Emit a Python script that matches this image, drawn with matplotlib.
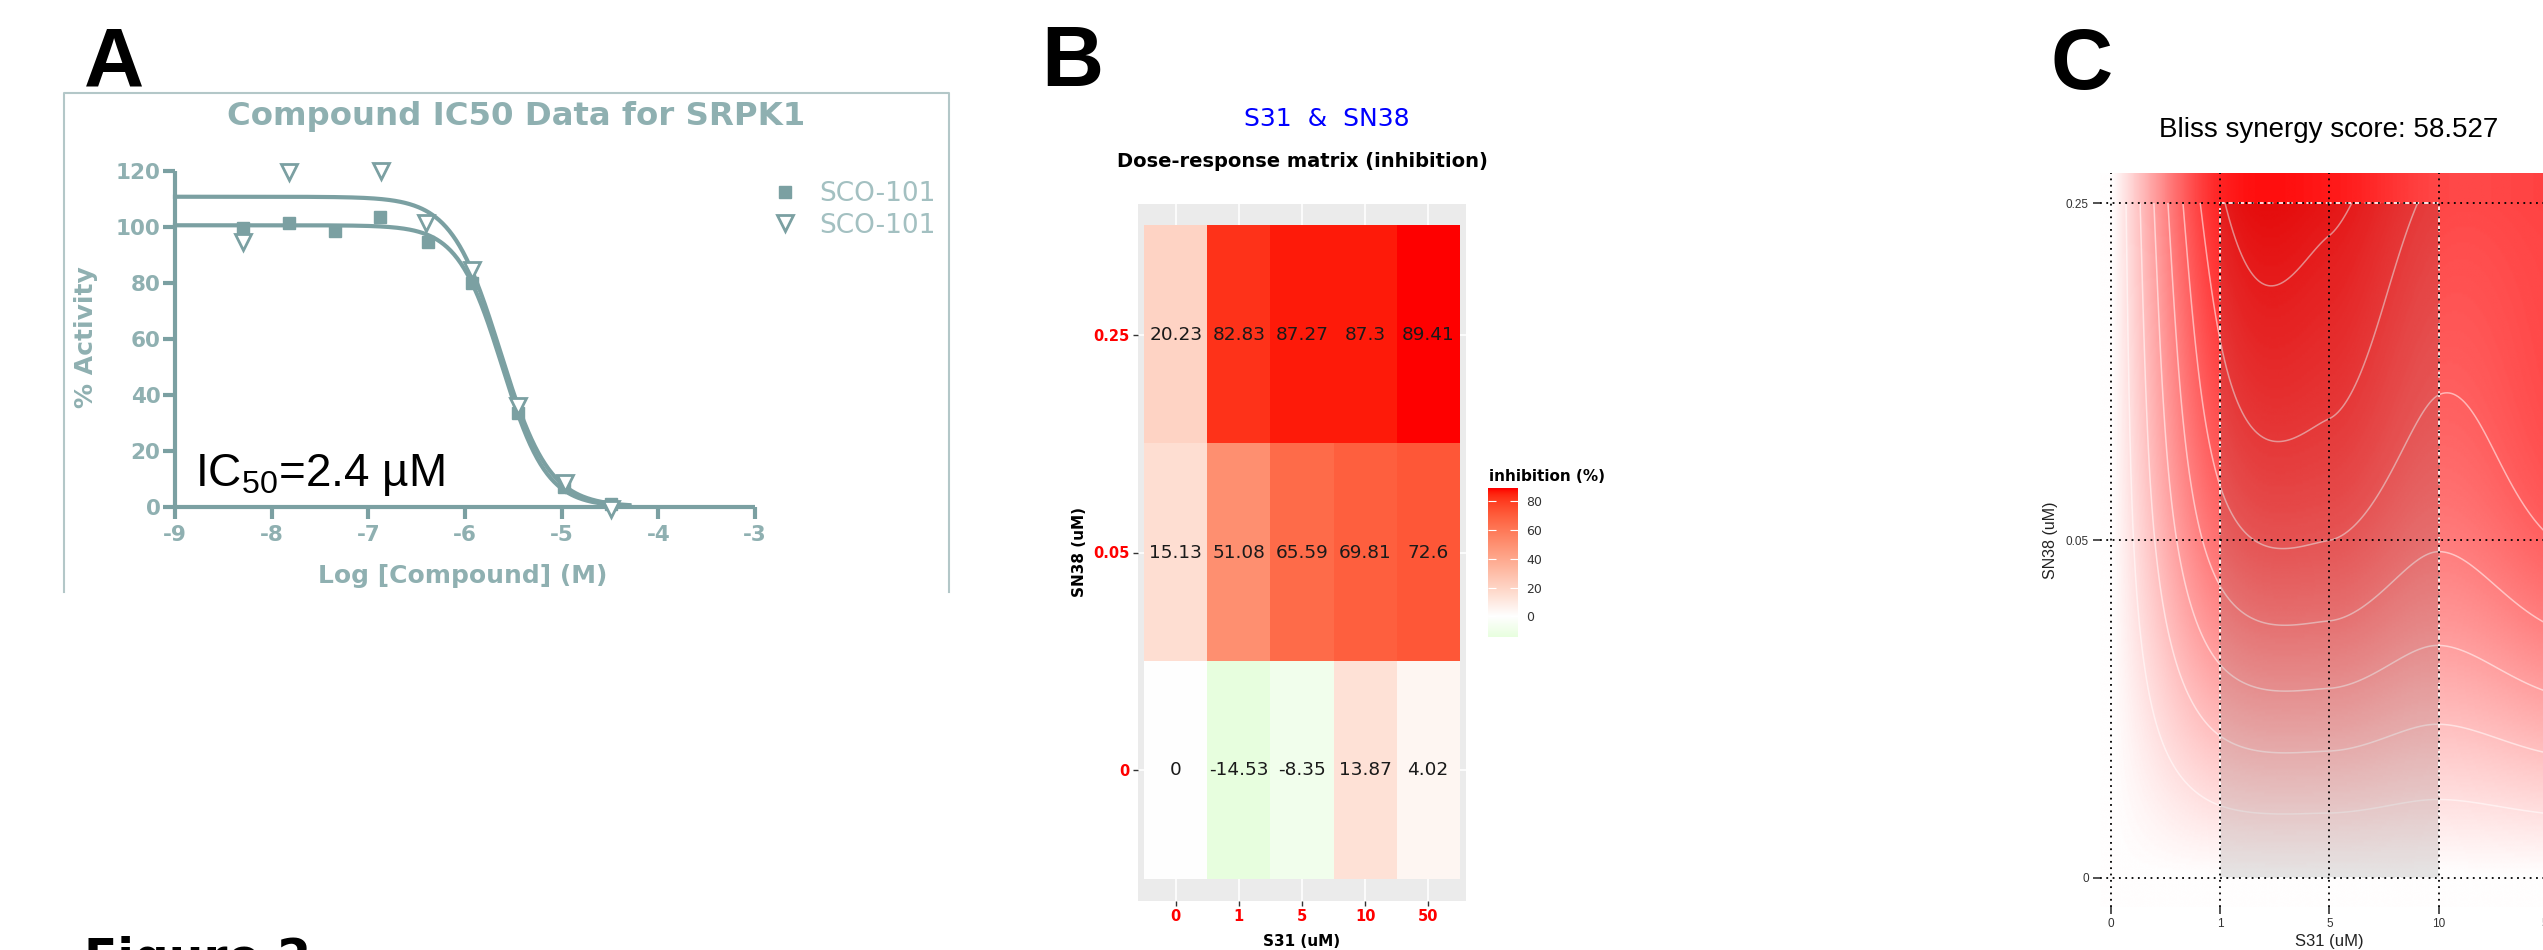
import numpy as np
import matplotlib
matplotlib.use("Agg")
import matplotlib.pyplot as plt
from matplotlib.lines import Line2D
from matplotlib.patches import Rectangle
from matplotlib.colors import ListedColormap, LinearSegmentedColormap

plt.rcParams['mathtext.fontset'] = 'custom'
plt.rcParams['mathtext.rm'] = 'Liberation Sans'
plt.rcParams['mathtext.default'] = 'rm'
plt.rcParams['axes.unicode_minus'] = False

# ---------------- data ----------------
# Panel A: IC50 curve data (log M, % activity)
sq_logx = [-8.30, -7.82, -7.345, -6.88, -6.38, -5.93, -5.455, -4.98, -4.49]
sq_act = [99.5, 101.5, 98.7, 103.7, 94.7, 80.1, 33.4, 7.1, 0.8]
tri_logx = [-8.30, -7.82, -6.87, -6.40, -5.93, -5.45, -4.97, -4.49]
tri_act = [94.7, 119.8, 120.0, 101.3, 84.6, 36.0, 8.4, -1.0]
# fitted 4PL parameters: (top, bottom, logIC50, hill)
fit_sq = (100.6, 0.0, -5.616, 1.885)
fit_tri = (110.8, 0.0, -5.635, 1.72)
fit_range = (-9.0, -4.3)
legend_labels = ['SCO-101', 'SCO-101']
ic50_text = 'IC$_{50}$=2.4 µM'

# Panel B: dose-response matrix (rows: SN38 0, 0.05, 0.25; cols: S31 0,1,5,10,50)
s31_doses = ['0', '1', '5', '10', '50']
sn38_doses = ['0', '0.05', '0.25']
inhibition = [
    [0, -14.53, -8.35, 13.87, 4.02],
    [15.13, 51.08, 65.59, 69.81, 72.6],
    [20.23, 82.83, 87.27, 87.3, 89.41],
]
cbar_ticks = [0, 20, 40, 60, 80]

# Panel C: Bliss synergy scores (rows SN38 0, 0.05, 0.25)
bliss = [
    [0, 0, 0, 0, 0],
    [0, 45, 50, 41, 49.5],
    [0, 68.5, 72, 58, 59],
]
bliss_score = 58.527
contour_levels = [10, 20, 30, 40, 50, 60, 70]
box_x = (1, 3)   # most synergistic area (dose index)
box_y = (0, 2)

# ---------------- figure ----------------
W, H = 2543, 950
fig = plt.figure(figsize=(W / 100, H / 100), dpi=100)
fig.patch.set_facecolor('white')


def fx(x):
    return x / W


def fy(y):
    return 1 - y / H


TEAL = '#7BA0A2'
TEAL_T = '#8FB0B1'
TEAL_L = '#A3C0C1'

# ---------- Panel A ----------
fig.add_artist(Line2D([fx(64), fx(64), fx(949), fx(949)], [fy(592), fy(93), fy(93), fy(592)],
                      color='#B3C7C8', lw=1.5))
axA = fig.add_axes([fx(175), fy(506.7), (755 - 175) / W, (506.7 - 171) / H])
axA.set_xlim(-9, -3)
axA.set_ylim(0, 120)
for s in ['top', 'right']:
    axA.spines[s].set_visible(False)
for s in ['left', 'bottom']:
    axA.spines[s].set_color(TEAL)
    axA.spines[s].set_linewidth(3)
    axA.spines[s].set_capstyle('butt')
axA.set_xticks(range(-9, -2))
axA.set_yticks(range(0, 121, 20))
axA.tick_params(direction='out', length=8.5, width=3, color=TEAL, labelcolor=TEAL_T,
                labelsize=15.5)
axA.tick_params(axis='y', pad=2)
axA.tick_params(axis='x', pad=5)
for lab in axA.get_xticklabels() + axA.get_yticklabels():
    lab.set_fontweight('bold')
    lab.set_family('DejaVu Sans')
axA.set_facecolor('none')


def logistic(x, p):
    top, bot, c, h = p
    return bot + (top - bot) / (1 + 10 ** ((x - c) * h))


xx = np.linspace(fit_range[0], fit_range[1], 400)
axA.plot(xx, logistic(xx, fit_tri), color=TEAL, lw=3, clip_on=False, zorder=2)
axA.plot(xx, logistic(xx, fit_sq), color=TEAL, lw=3, clip_on=False, zorder=2)
axA.plot(sq_logx, sq_act, 's', color=TEAL, ms=9, clip_on=False, zorder=3)
axA.plot(tri_logx, tri_act, 'v', mfc='white', mec=TEAL, mew=2, ms=11, clip_on=False, zorder=3)

fig.text(fx(516), fy(125), 'Compound IC50 Data for SRPK1', ha='center', va='baseline',
         fontsize=23.3, fontweight='bold', color=TEAL_T, family='DejaVu Sans')
fig.text(fx(463), fy(583), 'Log [Compound] (M)', ha='center', va='baseline',
         fontsize=18, fontweight='bold', color=TEAL_T, family='DejaVu Sans')
fig.text(fx(86), fy(337), '% Activity', ha='center', va='center', rotation=90,
         fontsize=18, fontweight='bold', color=TEAL_T, family='DejaVu Sans')
fig.text(fx(195), fy(486), ic50_text, ha='left', va='baseline', fontsize=33,
         color='black', family='Liberation Sans')

hA = [Line2D([], [], ls='none', marker='s', color=TEAL, ms=9),
      Line2D([], [], ls='none', marker='v', mfc='white', mec=TEAL, mew=2, ms=11)]
legA = fig.legend(hA, legend_labels, loc='center left', bbox_to_anchor=(fx(772), fy(210)),
                  frameon=False, prop={'family': 'DejaVu Sans', 'size': 19},
                  handlelength=1.0, handletextpad=0.8, labelspacing=0.2,
                  borderpad=0, borderaxespad=0)
for t in legA.get_texts():
    t.set_color(TEAL_L)

# ---------- Panel B ----------


def srgb_to_lab(c):
    c = np.asarray(c, float)
    lin = np.where(c <= 0.04045, c / 12.92, ((c + 0.055) / 1.055) ** 2.4)
    M = np.array([[0.4124, 0.3576, 0.1805], [0.2126, 0.7152, 0.0722], [0.0193, 0.1192, 0.9505]])
    xyz = M @ lin / np.array([0.95047, 1.0, 1.08883])
    f = np.where(xyz > 0.008856, np.cbrt(xyz), 7.787 * xyz + 16 / 116)
    return np.array([116 * f[1] - 16, 500 * (f[0] - f[1]), 200 * (f[1] - f[2])])


def lab_to_srgb(lab):
    L, a, b = lab
    fy_ = (L + 16) / 116
    fx_ = fy_ + a / 500
    fz_ = fy_ - b / 200
    f = np.array([fx_, fy_, fz_])
    xyz = np.where(f ** 3 > 0.008856, f ** 3, (f - 16 / 116) / 7.787) * np.array([0.95047, 1.0, 1.08883])
    Minv = np.array([[3.2406, -1.5372, -0.4986], [-0.9689, 1.8758, 0.0415], [0.0557, -0.2040, 1.0570]])
    lin = Minv @ xyz
    lin = np.clip(lin, 0, 1)
    c = np.where(lin <= 0.0031308, 12.92 * lin, 1.055 * lin ** (1 / 2.4) - 0.055)
    return np.clip(c, 0, 1)


lab_low = srgb_to_lab([0, 1, 0])
lab_mid = srgb_to_lab([1, 1, 1])
lab_high = srgb_to_lab([1, 0, 0])
cols = []
for t in np.linspace(0, 1, 257):
    if t < 0.5:
        u = t / 0.5
        lab = lab_low + (lab_mid - lab_low) * u
    else:
        u = (t - 0.5) / 0.5
        lab = lab_mid + (lab_high - lab_mid) * u
    cols.append(lab_to_srgb(lab))
cmapB = ListedColormap(cols)
inh = np.array(inhibition, float)
lim = np.abs(inh).max()

axB = fig.add_axes([fx(1138), fy(901), 328 / W, 697 / H])
axB.set_facecolor('#EBEBEB')
axB.imshow(inh, cmap=cmapB, vmin=-lim, vmax=lim, origin='lower',
           extent=(0.5, len(s31_doses) + 0.5, 0.5, len(sn38_doses) + 0.5),
           aspect='auto', interpolation='nearest', zorder=1)
axB.set_xlim(0.4, len(s31_doses) + 0.6)
axB.set_ylim(0.4, len(sn38_doses) + 0.6)
axB.set_xticks(range(1, len(s31_doses) + 1))
axB.set_xticklabels(s31_doses)
axB.set_yticks(range(1, len(sn38_doses) + 1))
axB.set_yticklabels(sn38_doses)
axB.grid(True, color='white', lw=1.2)
axB.set_axisbelow(True)
for s in axB.spines.values():
    s.set_visible(False)
axB.tick_params(length=3.5, width=1, color='#333333', labelcolor='red', labelsize=10.5, pad=2.5)
for lab in axB.get_xticklabels() + axB.get_yticklabels():
    lab.set_fontweight('bold')
for i in range(inh.shape[0]):
    for j in range(inh.shape[1]):
        axB.text(j + 1, i + 1, f"{inh[i, j]:g}", ha='center', va='center', fontsize=13.3,
                 color='#1A1A1A', family='DejaVu Sans', zorder=3)

fig.text(fx(1327), fy(126), 'S31  &  SN38', ha='center', va='baseline', fontsize=18,
         color='#0000FF', family='DejaVu Sans')
fig.text(fx(1302), fy(167), 'Dose-response matrix (inhibition)', ha='center', va='baseline',
         fontsize=14, fontweight='bold', color='black', family='DejaVu Sans')
fig.text(fx(1302), fy(946), 'S31 (uM)', ha='center', va='baseline', fontsize=11,
         fontweight='bold', color='black', family='DejaVu Sans')
fig.text(fx(1079), fy(552), 'SN38 (uM)', ha='center', va='center', rotation=90, fontsize=11,
         fontweight='bold', color='black', family='DejaVu Sans')

# colour bar
cax = fig.add_axes([fx(1488), fy(637), 30 / W, 149 / H])
grad = np.linspace(inh.min(), inh.max(), 300).reshape(-1, 1)
cax.imshow(grad, cmap=cmapB, vmin=-lim, vmax=lim, origin='lower', aspect='auto',
           extent=(0, 1, inh.min(), inh.max()))
cax.set_xticks([])
cax.set_yticks(cbar_ticks)
cax.tick_params(axis='y', direction='in', length=6, width=0.8, color='white', left=True,
                right=True, labelleft=False, labelright=True, labelsize=9, labelcolor='#333333',
                pad=6)
for s in cax.spines.values():
    s.set_visible(False)
fig.text(fx(1489), fy(481), 'inhibition (%)', ha='left', va='baseline', fontsize=11,
         fontweight='bold', color='black', family='DejaVu Sans')

# ---------- Panel C ----------
bl = np.array(bliss, float)
ny_, nx_ = bl.shape
x0, x1, y0, y1 = -0.1, 4.1, -0.087, 2.089
axC = fig.add_axes([fx(2100), fy(907), (2110.5 + 4.1 * 109.3 - 2100) / W, (907 - 173) / H])
axC.set_xlim(x0, x1)
axC.set_ylim(y0, y1)


def hermite(vals, t):
    """Cubic Hermite (Catmull-Rom) evaluation through knots at 0..n-1."""
    v = np.asarray(vals, float)
    n = len(v)
    m = np.empty(n)
    m[1:-1] = (v[2:] - v[:-2]) / 2
    m[0] = v[1] - v[0]
    m[-1] = v[-1] - v[-2]
    t = np.clip(t, 0, n - 1)
    i = np.clip(np.floor(t).astype(int), 0, n - 2)
    s = t - i
    h00 = 2 * s ** 3 - 3 * s ** 2 + 1
    h10 = s ** 3 - 2 * s ** 2 + s
    h01 = -2 * s ** 3 + 3 * s ** 2
    h11 = s ** 3 - s ** 2
    return h00 * v[i] + h10 * m[i] + h01 * v[i + 1] + h11 * m[i + 1]


def surface(xs, ys):
    rows = np.array([hermite(r, xs) for r in bl])            # (ny_, len(xs))
    return np.array([hermite(rows[:, j], ys) for j in range(len(xs))]).T


cmapC = LinearSegmentedColormap.from_list('gwr', ['#00FF00', '#FFFFFF', '#FF0000'])
vC = 80
xs = np.linspace(x0, x1, 500)
ys = np.linspace(y0, y1, 300)
axC.imshow(surface(xs, ys), cmap=cmapC, vmin=-vC, vmax=vC, origin='lower',
           extent=(x0, x1, y0, y1), aspect='auto', interpolation='bilinear', zorder=0)
xd = np.linspace(0, nx_ - 1, 201)
yd = np.linspace(0, ny_ - 1, 101)
axC.contour(xd, yd, surface(xd, yd), levels=contour_levels, colors='white', linewidths=1.1,
            alpha=0.55, zorder=1)
axC.add_patch(Rectangle((box_x[0], box_y[0]), box_x[1] - box_x[0], box_y[1] - box_y[0],
                        facecolor=(0, 0, 0, 0.1), edgecolor=(1, 1, 1, 0.85), lw=1.4,
                        ls=(0, (3, 2)), zorder=2))
axC.set_xticks(range(nx_))
axC.set_xticklabels(s31_doses)
axC.set_yticks(range(ny_))
axC.set_yticklabels(sn38_doses)
axC.grid(True, color='black', lw=1.3, ls=(0, (1, 2.5)))
axC.set_axisbelow(False)
for s in axC.spines.values():
    s.set_visible(False)
axC.tick_params(length=5, width=1.2, color='#333333', labelcolor='#333333', labelsize=8.5, pad=3)
for lab in axC.get_xticklabels() + axC.get_yticklabels():
    lab.set_family('Liberation Sans')
fig.text(fx(2329), fy(137), f'Bliss synergy score: {bliss_score}', ha='center', va='baseline',
         fontsize=20, color='black', family='Liberation Sans')
fig.text(fx(2329), fy(946), 'S31 (uM)', ha='center', va='baseline', fontsize=12,
         color='#222222', family='Liberation Sans')
fig.text(fx(2050), fy(540), 'SN38 (uM)', ha='center', va='center', rotation=90, fontsize=11.5,
         color='#222222', family='Liberation Sans')

# ---------- panel letters & caption ----------
fig.text(fx(84), fy(86), 'A', fontsize=60, fontweight='bold', family='Liberation Sans',
         va='baseline', ha='left')
fig.text(fx(1041), fy(86), 'B', fontsize=62, fontweight='bold', family='Liberation Sans',
         va='baseline', ha='left')
fig.text(fx(2050), fy(89), 'C', fontsize=62, fontweight='bold', family='Liberation Sans',
         va='baseline', ha='left')
fig.text(fx(84), fy(974), 'Figure 2', fontsize=35, fontweight='bold', family='DejaVu Sans',
         va='baseline', ha='left')

fig.savefig('out.png', dpi=100)
